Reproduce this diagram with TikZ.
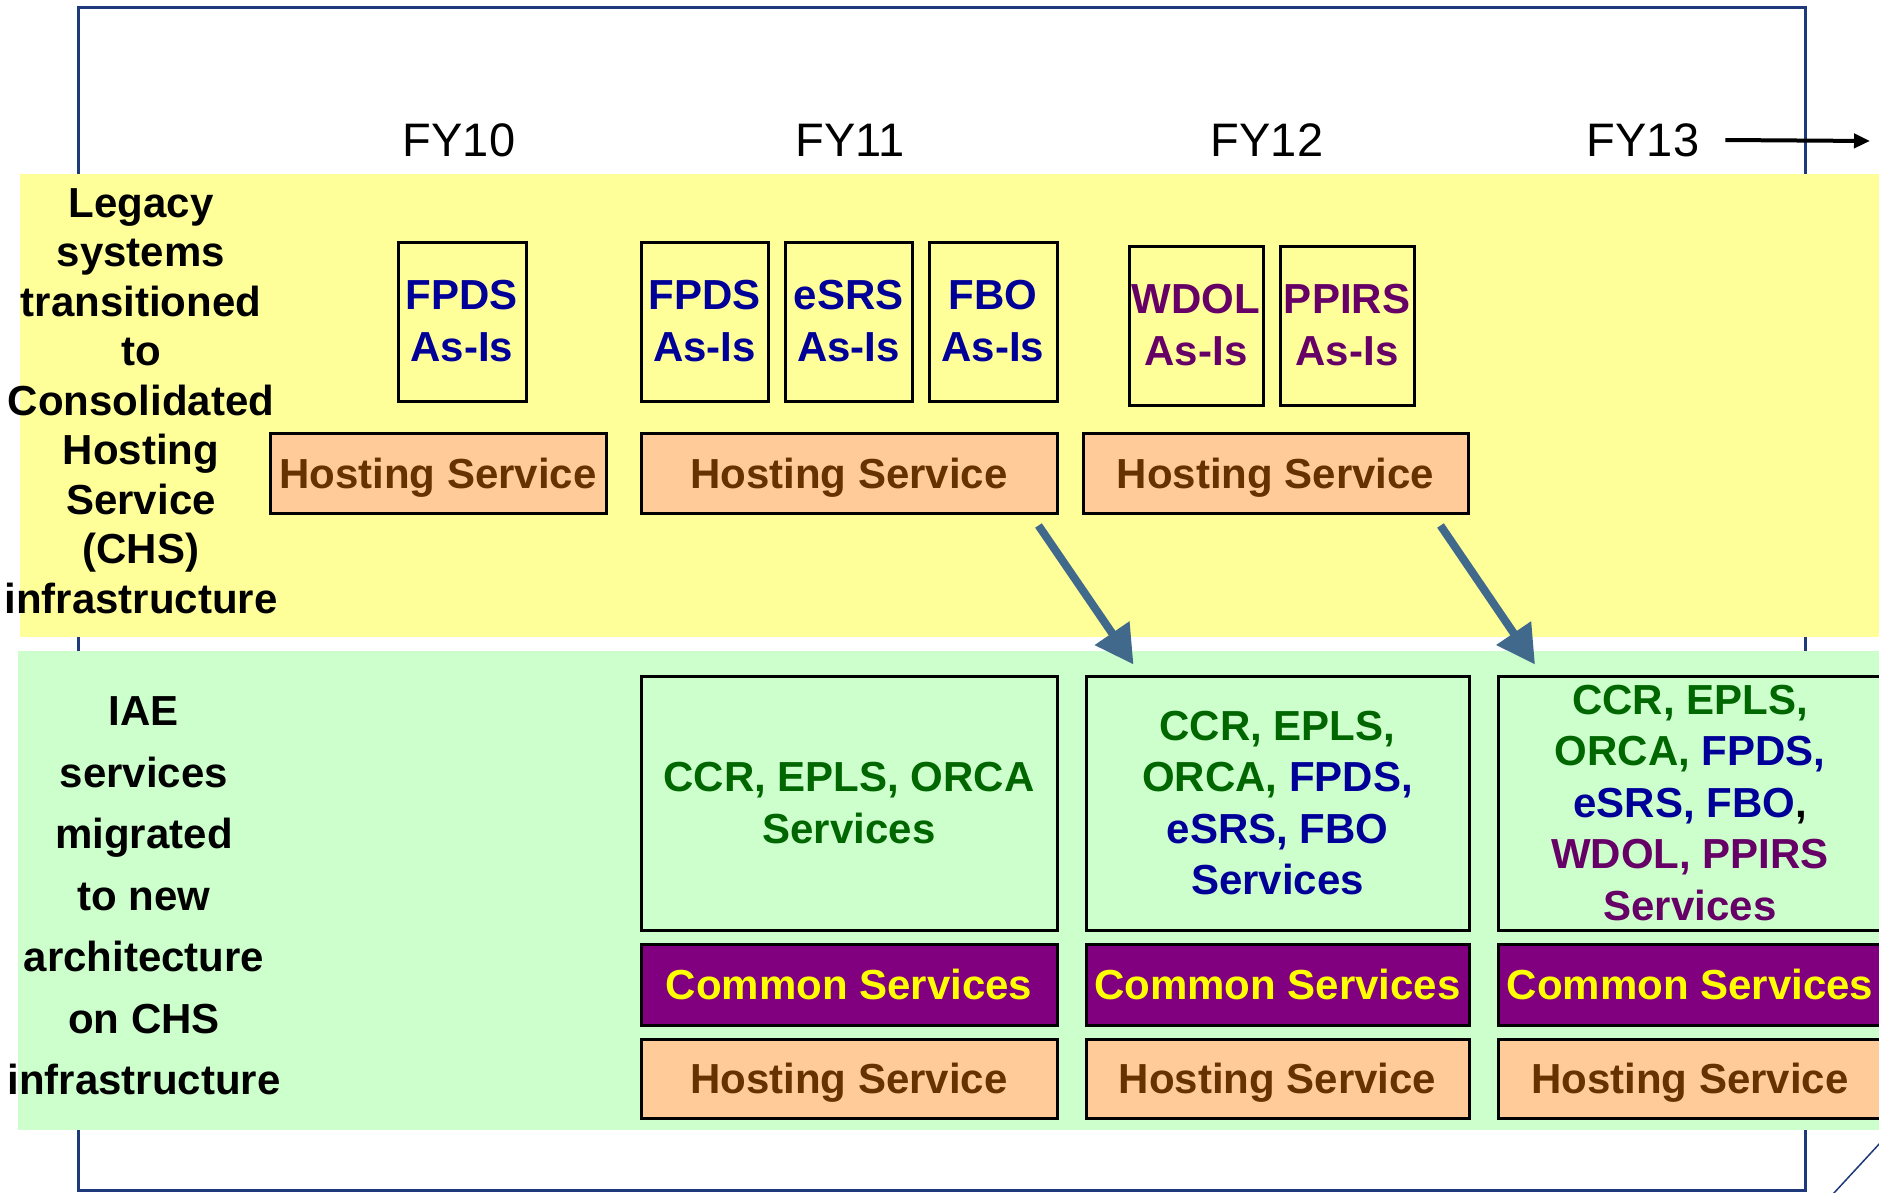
\documentclass[tikz,border=0pt]{standalone}
\usepackage{fontspec}
\setmainfont{Liberation Sans}
\usetikzlibrary{arrows.meta}
\definecolor{frameblue}{HTML}{1F3A7A}
\definecolor{yband}{HTML}{FFFF99}
\definecolor{gband}{HTML}{CCFFCC}
\definecolor{hostfill}{HTML}{FFCC99}
\definecolor{hosttext}{HTML}{663300}
\definecolor{commonfill}{HTML}{800080}
\definecolor{commontext}{HTML}{FFFF00}
\definecolor{tblue}{HTML}{000099}
\definecolor{tgreen}{HTML}{006600}
\definecolor{tpurple}{HTML}{660066}
\definecolor{arrowblue}{HTML}{41698C}
\begin{document}
\begin{tikzpicture}[x=1pt,y=-1pt,
  box/.style={draw=black, line width=3pt, inner sep=0pt, align=center,
    font=\bfseries\fontsize{42}{52}\selectfont},
  legacy/.style={box, minimum height=159pt},
  host/.style={box, fill=hostfill, text=hosttext, minimum height=80pt, text depth=0pt},
  common/.style={box, fill=commonfill, text=commontext, minimum height=81pt},
  hostg/.style={box, fill=hostfill, text=hosttext, minimum height=79pt, text depth=0pt},
  svc/.style={box, minimum height=254pt, font=\bfseries\fontsize{42}{51.5}\selectfont},
  lbl/.style={align=center, inner sep=0pt},
  fy/.style={inner sep=0pt, font=\fontsize{47}{56}\selectfont},
  migr/.style={draw=arrowblue, line width=8pt, -{Triangle[length=38pt,width=40pt]}},
  fyarrow/.style={draw=black, line width=4pt, -{Triangle[length=16pt,width=14pt]}}
]
\useasboundingbox (0,0) rectangle (1879,1192);
\fill[white] (0,0) rectangle (1879,1192);
% frame
\draw[frameblue, line width=3pt] (78,7) rectangle (1805,1190);
\draw[frameblue, line width=1.5pt] (1833,1194) -- (1881,1142);
% bands
\fill[yband] (20,174) rectangle (1879,637);
\fill[gband] (18,651) rectangle (1879,1130);
% year labels
\node[fy] (fy10) at (459,140) {FY10};
\node[fy] (fy11) at (850,140) {FY11};
\node[fy] (fy12) at (1267,140) {FY12};
\node[fy] (fy13) at (1643,140) {FY13};
\coordinate (fyend) at (1870,141);
\draw[fyarrow] ([xshift=26pt]fy13.east) -- (fyend);
% left labels
\node[lbl, font=\bfseries\fontsize{42}{49.5}\selectfont] (leglabel) at (141,401)
  {Legacy\\systems\\transitioned\\to\\Consolidated\\Hosting\\Service\\(CHS)\\infrastructure};
\node[lbl, font=\bfseries\fontsize{42}{61.5}\selectfont] (iaelabel) at (144,896)
  {IAE\\services\\migrated\\to new\\architecture\\on CHS\\infrastructure};
% legacy boxes
\node[legacy, minimum width=128pt, text=tblue] (lg1) at (462,321.5) {FPDS\\As-Is};
\node[legacy, minimum width=127pt, text=tblue] (lg2) at (704.5,321.5) {FPDS\\As-Is};
\node[legacy, minimum width=127pt, text=tblue] (lg3) at (848.5,321.5) {eSRS\\As-Is};
\node[legacy, minimum width=128pt, text=tblue] (lg4) at (993,321.5) {FBO\\As-Is};
\node[legacy, minimum width=134pt, text=tpurple] (lg5) at (1196,325.5) {WDOL\\As-Is};
\node[legacy, minimum width=134pt, text=tpurple] (lg6) at (1347,325.5) {PPIRS\\As-Is};
% hosting services (legacy)
\node[host, minimum width=336pt] (hs10) at (438,473) {Hosting Service};
\node[host, minimum width=416pt] (hs11) at (849,473) {Hosting Service};
\node[host, minimum width=385pt] (hs12) at (1275.5,473) {Hosting Service};
% services boxes
\node[svc, minimum width=416pt, text=tgreen] (sv11) at (849,803)
  {CCR, EPLS, ORCA\\Services};
\node[svc, minimum width=383pt, text=tblue] (sv12) at (1277.5,803)
  {\textcolor{tgreen}{CCR, EPLS,}\\\textcolor{tgreen}{ORCA,} FPDS,\\eSRS, FBO\\Services};
\node[svc, minimum width=383pt, text=tpurple] (sv13) at (1690,803)
  {\textcolor{tgreen}{CCR, EPLS,}\\\textcolor{tgreen}{ORCA,} \textcolor{tblue}{FPDS,}\\\textcolor{tblue}{eSRS, FBO}\textcolor{black}{,}\\WDOL, PPIRS\\Services};
% common services
\node[common, minimum width=416pt] (cs11) at (849,984.5) {Common Services};
\node[common, minimum width=383pt] (cs12) at (1277.5,984.5) {Common Services};
\node[common, minimum width=383pt] (cs13) at (1690,984.5) {Common Services};
% hosting (new)
\node[hostg, minimum width=416pt] (hg11) at (849,1078.5) {Hosting Service};
\node[hostg, minimum width=383pt] (hg12) at (1277.5,1078.5) {Hosting Service};
\node[hostg, minimum width=383pt] (hg13) at (1690,1078.5) {Hosting Service};
% migration arrows
\draw[migr] ([xshift=-20pt,yshift=-11pt]hs11.south east) -- ([xshift=49pt,yshift=10pt]sv12.north west);
\draw[migr] ([xshift=-29pt,yshift=-11pt]hs12.south east) -- ([xshift=38pt,yshift=10pt]sv13.north west);
\end{tikzpicture}
\end{document}
